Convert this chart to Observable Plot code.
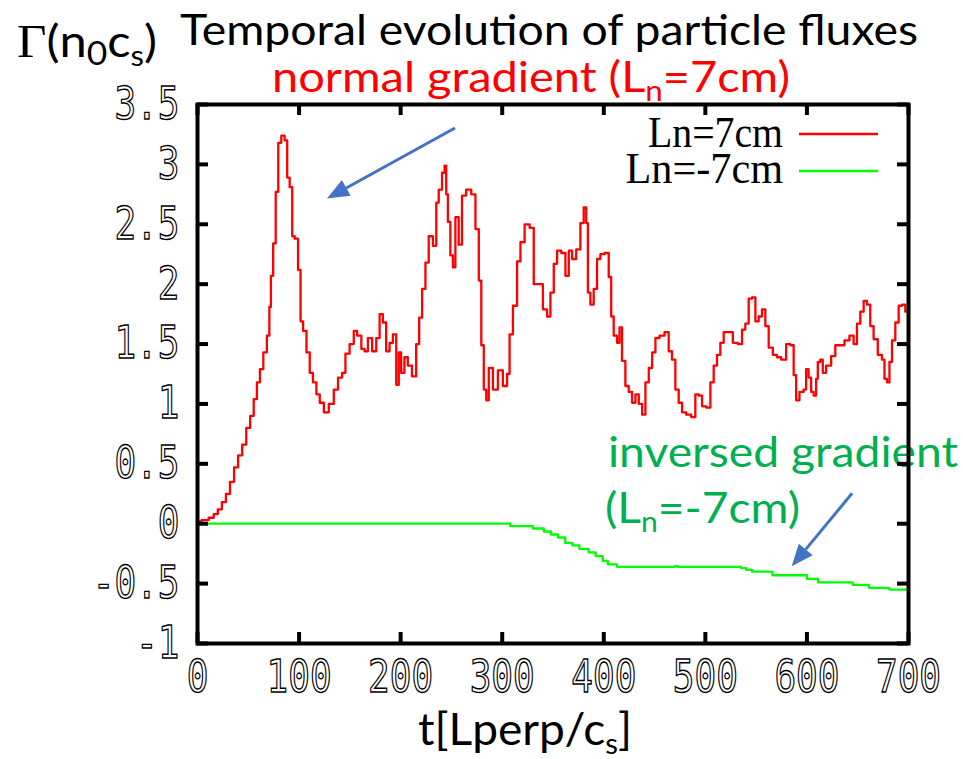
<!DOCTYPE html>
<html><head><meta charset="utf-8">
<script src="https://cdn.jsdelivr.net/npm/d3@7"></script>
<script src="https://cdn.jsdelivr.net/npm/@observablehq/plot@0.6"></script>
<style>body{margin:0;background:#fff}#chart{position:relative;width:963px;height:759px;background:#fff}</style>
</head><body><div id="chart"></div>
<script>
// ---- data ----
const xTicks = [0,100,200,300,400,500,600,700];
const yTicks = [-1,-0.5,0,0.5,1,1.5,2,2.5,3,3.5];
// Ln = 7cm  : [t, flux]
const redSeries = [[0,0.02],[8,0.03],[14,0.05],[18,0.08],[22,0.12],[26,0.18],[30,0.25],[34,0.35],[38,0.47],[42,0.57],[46,0.66],[50,0.8],[53.7,0.9],[57,1.04],[60,1.18],[63,1.29],[66.6,1.43],[70,1.57],[71.5,1.81],[73,2.07],[76,2.34],[78,2.77],[81,3.18],[84,3.24],[87.6,3.2],[89,2.89],[92.5,2.81],[94,2.4],[97.4,2.38],[100.6,2.12],[102.3,1.69],[105.6,1.61],[109,1.43],[112,1.26],[115.4,1.18],[118.7,1.08],[122,1.01],[126.8,0.93],[131.7,1.0],[136.7,1.12],[140,1.22],[144.8,1.26],[146.5,1.42],[153,1.5],[154.7,1.61],[159.6,1.57],[163,1.46],[166,1.44],[169.5,1.55],[174.4,1.44],[177.6,1.55],[181,1.75],[184,1.68],[187.5,1.44],[190.7,1.51],[194,1.58],[197.3,1.16],[199,1.43],[202,1.26],[205.4,1.39],[208.7,1.32],[213.6,1.23],[217,1.5],[219.5,1.72],[222.8,1.96],[226,2.18],[229.3,2.4],[234.2,2.32],[236,2.68],[239,2.79],[242.5,2.93],[244,2.99],[245.7,2.75],[247.3,2.52],[250.6,2.24],[252.3,2.14],[255.5,2.56],[258.8,2.33],[262,2.74],[267,2.79],[272,2.75],[275.3,2.46],[278.6,2.03],[280.2,1.49],[283.5,1.12],[285.1,1.03],[288.4,1.3],[293.3,1.12],[298.2,1.28],[303.1,1.15],[306.4,1.25],[308.1,1.58],[313,1.82],[316.3,2.19],[319.6,2.35],[324.5,2.5],[329.4,2.47],[332.7,2.0],[337.6,2.0],[342.5,1.79],[345.8,1.73],[349.1,1.93],[352.4,2.17],[355.7,2.28],[360.6,2.26],[363.9,2.07],[367.2,2.28],[370.4,2.21],[375.3,2.29],[378.6,2.51],[381.9,2.64],[383.5,2.51],[385.2,1.93],[388.4,1.83],[391.7,1.96],[395,2.21],[398.3,2.25],[403.2,2.26],[406.5,2.06],[408.1,1.73],[411.4,1.57],[414.7,1.51],[416.3,1.64],[419.6,1.36],[422.9,1.15],[426.2,1.1],[429.5,1.01],[432.8,1.08],[436.1,1.0],[439.4,0.91],[442.6,1.18],[446,1.3],[449.2,1.43],[452.5,1.55],[457.3,1.57],[462.3,1.6],[465.5,1.44],[468.8,1.37],[472.1,1.12],[475.4,1.01],[478.7,0.93],[483.6,0.91],[488.5,0.89],[491.8,1.08],[495.1,1.07],[498.4,0.98],[503.3,0.97],[506.6,1.18],[509.8,1.32],[513.1,1.41],[516.4,1.51],[519.7,1.6],[524.6,1.6],[529.5,1.51],[534.5,1.5],[537.7,1.62],[541,1.67],[544.3,1.88],[547.6,1.89],[550.9,1.69],[554.1,1.73],[557.4,1.79],[560.7,1.65],[564,1.47],[568.9,1.41],[572.2,1.39],[577.1,1.37],[582,1.5],[585.3,1.49],[588.6,1.24],[590.2,1.03],[595.1,1.1],[598.4,1.12],[600,1.29],[603.3,1.22],[605,1.1],[608.2,1.07],[609.9,1.21],[611.5,1.35],[614.8,1.37],[616.4,1.26],[621.4,1.32],[626.3,1.4],[629.6,1.49],[634.5,1.49],[639.4,1.53],[644.3,1.57],[647.6,1.5],[650.9,1.67],[654.2,1.77],[657.5,1.86],[660.7,1.83],[664,1.65],[667.3,1.54],[672.2,1.41],[675.5,1.37],[677.2,1.21],[680.4,1.18],[682.1,1.35],[685.4,1.53],[688.6,1.68],[692,1.82],[695.2,1.83],[698.5,1.77],[700,1.77]];
// Ln = -7cm : [t, flux]
const greenSeries = [[0,0],[308,-0.02],[330,-0.04],[341,-0.065],[348,-0.09],[355,-0.115],[362,-0.16],[369,-0.18],[376,-0.21],[385,-0.24],[392,-0.27],[399,-0.31],[404,-0.34],[413,-0.36],[470,-0.355],[473,-0.36],[535,-0.37],[540,-0.385],[546,-0.4],[566,-0.43],[600,-0.46],[611,-0.49],[645,-0.51],[661,-0.535],[681,-0.55],[700,-0.55]];
const legendLabels = ["Ln=7cm","Ln=-7cm"];
const seriesColors = ["#ff0000","#00ff00"];
// annotation arrows in data units: from (x1,y1) to tip (x2,y2)
const arrows = [{x1:254,y1:3.30,x2:128,y2:2.71},{x1:645,y1:0.25,x2:585.5,y2:-0.36}];

const W=963,H=759,mL=197,mR=55,mT=104,mB=116;
const plotW=W-mL-mR, plotH=H-mT-mB;
const red = redSeries.map(([t,f])=>({t,f}));
const green = greenSeries.map(([t,f])=>({t,f}));

const chart = Plot.plot({
  width:W,height:H,marginLeft:mL,marginRight:mR,marginTop:mT,marginBottom:mB,
  style:{background:"#fff",overflow:"visible"},
  x:{domain:[0,700]},
  y:{domain:[-1,3.5]},
  marks:[
    Plot.line(green,{x:"t",y:"f",curve:"step-after",stroke:seriesColors[1],strokeWidth:2.3,clip:true}),
    Plot.line(red,{x:"t",y:"f",curve:"step",stroke:seriesColors[0],strokeWidth:2.3,clip:true}),
    Plot.tickX(xTicks,{x:d=>d,stroke:"#000",strokeWidth:4,insetTop:plotH-11}),
    Plot.tickX(xTicks,{x:d=>d,stroke:"#000",strokeWidth:4,insetBottom:plotH-11}),
    Plot.tickY(yTicks,{y:d=>d,stroke:"#000",strokeWidth:4,insetRight:plotW-11}),
    Plot.tickY(yTicks,{y:d=>d,stroke:"#000",strokeWidth:4,insetLeft:plotW-11}),
    Plot.frame({stroke:"#000",strokeWidth:4}),
    Plot.axisX(xTicks,{tickSize:0,tickPadding:17,fontSize:45,fontFamily:"DejaVu Sans Mono",label:null,tickFormat:d=>String(d)}),
    Plot.axisY(yTicks,{tickSize:0,tickPadding:18,fontSize:45,fontFamily:"DejaVu Sans Mono",label:null,tickFormat:d=>String(d)})
  ]
});
document.getElementById("chart").appendChild(chart);
const svg = d3.select(chart);

// gnuplot-like hollow, narrow tick labels
svg.selectAll('g[aria-label="x-axis tick label"] text, g[aria-label="y-axis tick label"] text').each(function(){
  const s=d3.select(this); const n=s.text().length;
  s.attr("font-family","DejaVu Sans Mono").attr("font-size",45).attr("fill","#fff").attr("stroke","#000").attr("stroke-width",1.4)
   .attr("textLength",n*21.7).attr("lengthAdjust","spacingAndGlyphs");
});

// legend
const sx=chart.scale("x"), sy=chart.scale("y");
const legendY=[147,183], lineY=[134,171];
legendLabels.forEach((lab,i)=>{
  svg.append("text").attr("x",783).attr("y",legendY[i]).attr("text-anchor","end")
    .attr("font-family","Liberation Serif").attr("font-size",44).attr("fill","#000")
    .attr("textLength",lab.length*22.5).attr("lengthAdjust","spacingAndGlyphs").text(lab);
  svg.append("line").attr("x1",799).attr("x2",878).attr("y1",lineY[i]).attr("y2",lineY[i])
    .attr("stroke",seriesColors[i]).attr("stroke-width",2.5);
});

// arrows via scales
arrows.forEach(a=>{
  const x1=sx.apply(a.x1), y1=sy.apply(a.y1), x2=sx.apply(a.x2), y2=sy.apply(a.y2);
  const ang=Math.atan2(y2-y1,x2-x1), L=22, hw=9;
  const bx=x2-L*Math.cos(ang), by=y2-L*Math.sin(ang);
  svg.append("line").attr("x1",x1).attr("y1",y1).attr("x2",bx).attr("y2",by).attr("stroke","#4472c4").attr("stroke-width",3);
  const px=-Math.sin(ang), py=Math.cos(ang);
  svg.append("polygon").attr("points",`${x2},${y2} ${bx+hw*px},${by+hw*py} ${bx-hw*px},${by-hw*py}`).attr("fill","#4472c4");
});

// text helper: parts [{t, sub, family, size}]
function addText(parts,x,base,width,size,color,family,under){
  const t = under ? svg.insert("text",":first-child") : svg.append("text");
  t.attr("x",x).attr("y",base).attr("text-anchor","start").attr("font-family",family).attr("font-size",size).attr("fill",color)
   .attr("textLength",width).attr("lengthAdjust","spacingAndGlyphs");
  let shifted=0;
  parts.forEach(p=>{
    const ts=t.append("tspan").text(p.t);
    if(p.family) ts.attr("font-family",p.family);
    if(p.size) ts.attr("font-size",p.size);
    const want=p.sub||0;
    if(want!==shifted){ts.attr("dy",want-shifted); shifted=want;}
  });
  return t;
}
const SANS="Lato";
addText([{t:"Γ",family:"Liberation Serif",size:46},{t:"(n"},{t:"0",sub:8,size:32},{t:"c"},{t:"s",sub:9,size:28},{t:")"}],17,57,140,44,"#000",SANS);
addText([{t:"Temporal evolution of particle fluxes"}],180,45,738,43,"#000",SANS);
addText([{t:"normal gradient (L"},{t:"n",sub:9,size:28},{t:"=7cm)"}],272,92,518,42,"#ff0000",SANS);
addText([{t:"inversed gradient"}],608,467,350,43,"#00b050",SANS,true);
addText([{t:"(L"},{t:"n",sub:9,size:28},{t:"=-7cm)"}],605,523,195,43,"#00b050",SANS,true);
addText([{t:"t[Lperp/c"},{t:"s",sub:9,size:28},{t:"]"}],418,745,214,44,"#000",SANS);
</script>
</body></html>
